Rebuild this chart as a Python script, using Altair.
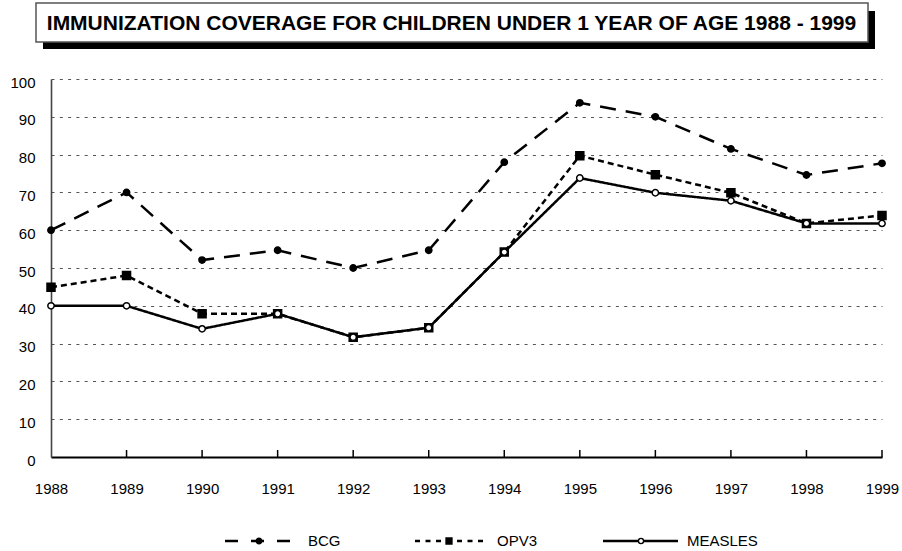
import altair as alt
import pandas as pd

# Immunization coverage (%) for children under 1 year of age
years = [1988, 1989, 1990, 1991, 1992, 1993, 1994, 1995, 1996, 1997, 1998, 1999]
bcg = [60, 70, 52.1, 54.7, 50, 54.7, 78, 93.7, 90, 81.5, 74.6, 77.7]
opv3 = [44.9, 48, 37.9, 37.9, 31.7, 34.2, 54.2, 79.7, 74.7, 69.9, 61.8, 63.9]
measles = [40, 40, 33.9, 37.9, 31.7, 34.2, 54.2, 73.8, 69.9, 67.8, 61.8, 61.8]

series_names = ["BCG", "OPV3", "MEASLES"]
series_values = [bcg, opv3, measles]

title_text = "IMMUNIZATION COVERAGE FOR CHILDREN UNDER 1 YEAR OF AGE 1988 - 1999"

FONT = "Liberation Sans"

# drawing style per series
styles = {
    "BCG": dict(dash=[16, 10], legend_dash=[13, 13], shape="circle", size=40,
                fill="black", lsize=32),
    "OPV3": dict(dash=[6, 4], legend_dash=[5, 5.5], shape="square", size=64,
                 fill="black", lsize=36),
    "MEASLES": dict(dash=[1, 0], legend_dash=[1, 0], shape="circle", size=40,
                    fill="white", lsize=26),
}

# legend layout (pixels in plot coordinates)
legend_pos = {
    "BCG": dict(x0=174, x1=241, xm=208, xt=257),
    "OPV3": dict(x0=364, x1=432, xm=398, xt=446),
    "MEASLES": dict(x0=552, x1=627, xm=590, xt=636),
}
LEGEND_Y = 462

W, H = 831, 378

rows = []
for name, vals in zip(series_names, series_values):
    for yr, v in zip(years, vals):
        rows.append({"year": yr, "value": v, "series": name})
df = pd.DataFrame(rows)
one = pd.DataFrame({"k": [0]})

x_scale = alt.Scale(domain=[1988, 1999], nice=False, zero=False)
y_scale = alt.Scale(domain=[0, 100], nice=False)

x_axis = alt.Axis(
    values=years, format="d", title=None, grid=False, ticks=False,
    labelFlush=False, labelOverlap=False, labelPadding=24,
    labelFont=FONT, labelFontSize=15, labelColor="black",
    domainColor="black", domainWidth=1.8,
)
y_axis = alt.Axis(
    values=list(range(0, 101, 10)), title=None, ticks=False,
    grid=True, gridDash=[3, 5.3], gridColor="#555555", gridWidth=1,
    labelPadding=16, labelFont=FONT, labelFontSize=15, labelColor="black",
    labelOffset=3, domainColor="#444444", domainWidth=1.6,
)

layers = []

# title box with drop shadow
layers.append(
    alt.Chart(one).mark_rect(color="black").encode(
        x=alt.value(-8), x2=alt.value(824), y=alt.value(-68), y2=alt.value(-30)
    )
)
layers.append(
    alt.Chart(one).mark_rect(fill="white", stroke="#555555", strokeWidth=1.5).encode(
        x=alt.value(-15), x2=alt.value(817), y=alt.value(-76), y2=alt.value(-37)
    )
)
layers.append(
    alt.Chart(one).mark_text(
        text=title_text, font=FONT, fontSize=21, fontWeight="bold",
        align="center", baseline="alphabetic", color="black",
    ).encode(x=alt.value(400.5), y=alt.value(-49))
)

# year ticks pointing up from the x axis
tick_df = pd.DataFrame({"year": years[1:]})
layers.append(
    alt.Chart(tick_df).mark_rule(color="black", strokeWidth=1.5).encode(
        x=alt.X("year:Q", scale=x_scale, axis=x_axis),
        y=alt.value(H),
        y2=alt.value(H - 7),
    )
)

# series lines and markers
for name in series_names:
    st = styles[name]
    sub = df[df["series"] == name]
    layers.append(
        alt.Chart(sub).mark_line(
            color="black", strokeWidth=2.5, strokeDash=st["dash"]
        ).encode(
            x=alt.X("year:Q", scale=x_scale, axis=x_axis),
            y=alt.Y("value:Q", scale=y_scale, axis=y_axis),
        )
    )
    layers.append(
        alt.Chart(sub).mark_point(
            shape=st["shape"], size=st["size"], filled=True, fill=st["fill"],
            stroke="black", strokeWidth=1.5, opacity=1,
        ).encode(
            x=alt.X("year:Q", scale=x_scale, axis=x_axis),
            y=alt.Y("value:Q", scale=y_scale, axis=y_axis),
        )
    )

# legend row
for name in series_names:
    st = styles[name]
    lp = legend_pos[name]
    layers.append(
        alt.Chart(one).mark_rule(
            color="black", strokeWidth=2.5, strokeDash=st["legend_dash"]
        ).encode(x=alt.value(lp["x0"]), x2=alt.value(lp["x1"]), y=alt.value(LEGEND_Y))
    )
    layers.append(
        alt.Chart(one).mark_point(
            shape=st["shape"], size=st["lsize"], filled=True, fill=st["fill"],
            stroke="black", strokeWidth=1.3, opacity=1,
        ).encode(x=alt.value(lp["xm"]), y=alt.value(LEGEND_Y))
    )
    layers.append(
        alt.Chart(one).mark_text(
            text=name, font=FONT, fontSize=15, align="left", baseline="middle",
            color="black",
        ).encode(x=alt.value(lp["xt"]), y=alt.value(LEGEND_Y))
    )

chart = alt.layer(*layers).properties(
    width=W,
    height=H,
    autosize=alt.AutoSizeParams(type="none"),
    padding={"left": 51, "top": 79, "right": 20, "bottom": 94},
    background="white",
).configure_view(stroke=None)

chart.save("out.html", embed_options={"renderer": "svg", "actions": False})
